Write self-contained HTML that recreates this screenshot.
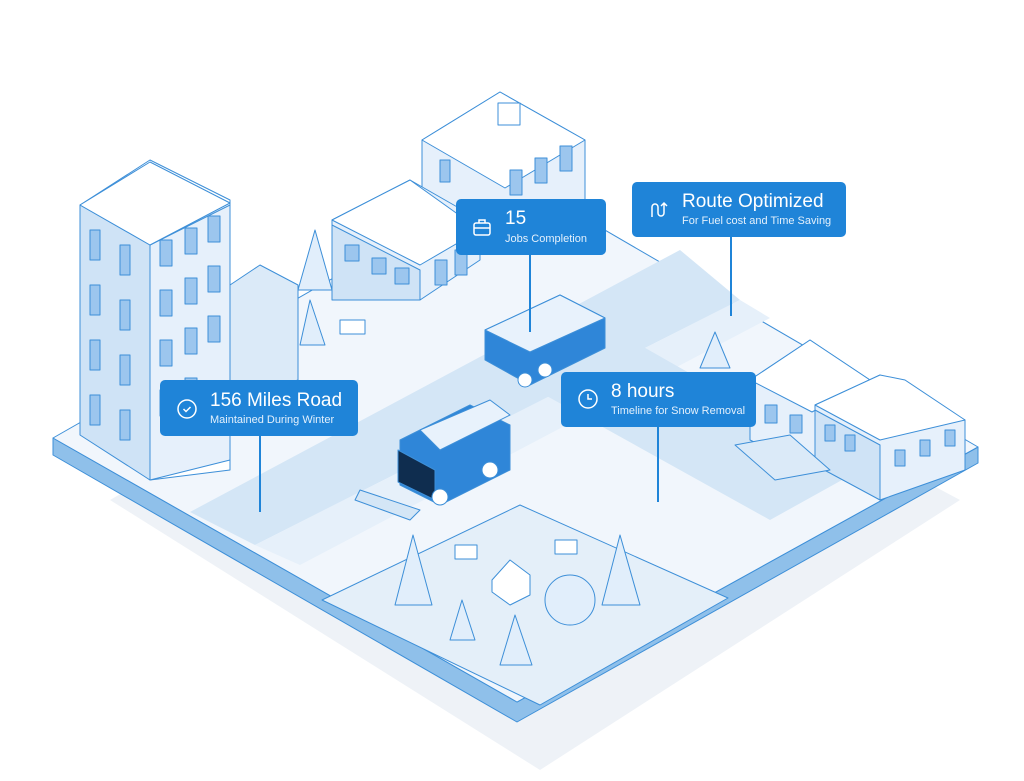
<!DOCTYPE html>
<html><head><meta charset="utf-8"><style>
html,body{margin:0;padding:0;background:#fff;width:1024px;height:781px;overflow:hidden}
.lb{position:absolute;background:#1f84d8;border-radius:5px;color:#fff;font-family:"Liberation Sans",sans-serif}
.lb .t{position:absolute;font-size:19px}
.lb .s{position:absolute;font-size:11px;color:#e3f0fc}
.ln{position:absolute;width:2px;background:#1f84d8}
</style></head><body>
<svg width="1024" height="781" style="position:absolute;left:0;top:0" xmlns="http://www.w3.org/2000/svg">
<g stroke="#3d8fd8" stroke-width="1" stroke-linejoin="round">
<!-- shadow -->
<polygon points="110,500 520,265 960,500 540,770" fill="#eef2f7" stroke="none"/>
<!-- platform side -->
<polygon points="53,438 517,702 978,447 978,463 517,722 53,455" fill="#8fc0ea"/>
<polygon points="53,438 512,176 978,447 517,702" fill="#f1f6fc"/>
<!-- main road -->
<polygon points="190,512 680,250 740,300 255,545" fill="#d4e6f6" stroke="none"/>
<polygon points="255,545 740,300 770,318 300,565" fill="#e6f0fa" stroke="none"/>
<!-- side road -->
<polygon points="545,395 640,345 860,470 770,520" fill="#d4e6f6" stroke="none"/>
<!-- park -->
<polygon points="322,600 520,505 728,598 540,705" fill="#e4eff9"/>
<!-- tall building -->
<polygon points="80,205 150,160 230,200 230,470 150,480 80,430" fill="#fff"/>
<polygon points="80,205 150,245 150,480 80,435" fill="#cfe3f6"/>
<polygon points="150,245 230,205 230,460 150,480" fill="#e6f0fb"/>
<polygon points="80,205 150,162 230,203 150,245" fill="#fff"/>
<g fill="#9cc6ee">
<rect x="90" y="230" width="10" height="30"/><rect x="120" y="245" width="10" height="30"/>
<rect x="90" y="285" width="10" height="30"/><rect x="120" y="300" width="10" height="30"/>
<rect x="90" y="340" width="10" height="30"/><rect x="120" y="355" width="10" height="30"/>
<rect x="90" y="395" width="10" height="30"/><rect x="120" y="410" width="10" height="30"/>
<rect x="160" y="240" width="12" height="26"/><rect x="185" y="228" width="12" height="26"/><rect x="208" y="216" width="12" height="26"/>
<rect x="160" y="290" width="12" height="26"/><rect x="185" y="278" width="12" height="26"/><rect x="208" y="266" width="12" height="26"/>
<rect x="160" y="340" width="12" height="26"/><rect x="185" y="328" width="12" height="26"/><rect x="208" y="316" width="12" height="26"/>
<rect x="160" y="390" width="12" height="26"/><rect x="185" y="378" width="12" height="26"/>
</g>
<!-- small building next -->
<polygon points="230,285 260,265 298,285 298,380 230,400" fill="#dbeaf8"/>
<!-- top center building -->
<polygon points="422,140 500,92 585,140 585,200 505,240 422,195" fill="#e6f0fb"/>
<polygon points="422,140 505,188 585,140 500,92" fill="#fff"/>
<rect x="498" y="103" width="22" height="22" fill="#fff"/>
<g fill="#9cc6ee"><rect x="510" y="170" width="12" height="25"/><rect x="535" y="158" width="12" height="25"/><rect x="560" y="146" width="12" height="25"/><rect x="440" y="160" width="10" height="22"/></g>
<!-- middle building -->
<polygon points="332,220 410,180 480,220 480,260 420,300 332,260" fill="#e6f0fb"/>
<polygon points="332,220 420,265 480,230 410,180" fill="#fff"/>
<polygon points="332,225 420,270 420,300 332,300" fill="#cfe3f6"/>
<g fill="#9cc6ee"><rect x="345" y="245" width="14" height="16"/><rect x="372" y="258" width="14" height="16"/><rect x="395" y="268" width="14" height="16"/><rect x="435" y="260" width="12" height="25"/><rect x="455" y="250" width="12" height="25"/></g>
<!-- right buildings -->
<polygon points="750,380 810,340 870,380 870,440 812,470 750,440" fill="#e6f0fb"/>
<polygon points="750,380 812,412 870,380 810,340" fill="#fff"/>
<polygon points="815,405 880,375 965,420 965,470 880,500 815,460" fill="#e6f0fb"/>
<polygon points="815,405 880,440 965,420 905,380 880,375" fill="#fff"/>
<polygon points="815,410 880,445 880,500 815,465" fill="#cfe3f6"/>
<g fill="#9cc6ee"><rect x="825" y="425" width="10" height="16"/><rect x="845" y="435" width="10" height="16"/><rect x="895" y="450" width="10" height="16"/><rect x="920" y="440" width="10" height="16"/><rect x="945" y="430" width="10" height="16"/><rect x="765" y="405" width="12" height="18"/><rect x="790" y="415" width="12" height="18"/></g>
<!-- bus stop -->
<polygon points="735,445 790,435 830,470 775,480" fill="#dbeaf8"/>
<!-- truck 1 -->
<polygon points="485,330 560,295 605,318 605,348 530,385 485,360" fill="#2f86d8"/>
<polygon points="485,330 530,352 605,318 560,295" fill="#e8f2fc"/>
<circle cx="525" cy="380" r="7" fill="#fff"/><circle cx="545" cy="370" r="7" fill="#fff"/>
<!-- truck 2 -->
<polygon points="400,440 470,405 510,425 510,470 440,505 400,485" fill="#2f86d8"/>
<polygon points="420,430 490,400 510,415 440,450" fill="#e8f2fc"/>
<polygon points="398,450 435,470 435,500 398,482" fill="#0f2d4f"/>
<circle cx="440" cy="497" r="8" fill="#fff"/><circle cx="490" cy="470" r="8" fill="#fff"/>
<polygon points="360,490 420,510 410,520 355,500" fill="#d4e6f6"/>
<!-- trees -->
<g fill="#e1eefb">
<polygon points="315,230 298,290 332,290"/><polygon points="310,300 300,345 325,345"/>
<polygon points="413,535 395,605 432,605"/><polygon points="462,600 450,640 475,640"/>
<polygon points="515,615 500,665 532,665"/><polygon points="620,535 602,605 640,605"/>
<polygon points="715,332 700,368 730,368"/>
<circle cx="570" cy="600" r="25"/>
</g>
<!-- fountain -->
<polygon points="492,580 510,560 530,575 530,595 510,605 492,592" fill="#fff"/>
<!-- benches -->
<rect x="340" y="320" width="25" height="14" fill="#fff"/><rect x="455" y="545" width="22" height="14" fill="#fff"/><rect x="555" y="540" width="22" height="14" fill="#fff"/>
</g>
</svg>
<div class="ln" style="left:529px;top:250px;height:82px"></div>
<div class="ln" style="left:730px;top:232px;height:84px"></div>
<div class="ln" style="left:259px;top:432px;height:80px"></div>
<div class="ln" style="left:657px;top:422px;height:80px"></div>

<div class="lb" style="left:456px;top:199px;width:150px;height:56px">
<svg style="position:absolute;left:16px;top:18px" width="20" height="20" viewBox="0 0 20 20" fill="none" stroke="#fff" stroke-width="1.5"><rect x="2" y="6" width="16" height="12" rx="2"/><path d="M7 6V3h6v3M2 11h16"/></svg>
<div class="t" style="left:49px;top:9px">15</div><div class="s" style="left:49px;top:34px">Jobs Completion</div></div>

<div class="lb" style="left:632px;top:182px;width:214px;height:55px">
<svg style="position:absolute;left:16px;top:17px" width="22" height="22" viewBox="0 0 22 22" fill="none" stroke="#fff" stroke-width="1.5"><path d="M4 18V8a3 3 0 0 1 6 0v6a3 3 0 0 0 6 0V4M13 7l3-3 3 3"/></svg>
<div class="t" style="left:50px;top:9px">Route Optimized</div><div class="s" style="left:50px;top:33px">For Fuel cost and Time Saving</div></div>

<div class="lb" style="left:160px;top:380px;width:198px;height:56px">
<svg style="position:absolute;left:16px;top:18px" width="22" height="22" viewBox="0 0 22 22" fill="none" stroke="#fff" stroke-width="1.5"><circle cx="11" cy="11" r="9"/><path d="M7.5 11l2.5 2.5 4.5-4.5"/></svg>
<div class="t" style="left:50px;top:10px">156 Miles Road</div><div class="s" style="left:50px;top:34px">Maintained During Winter</div></div>

<div class="lb" style="left:561px;top:372px;width:195px;height:55px">
<svg style="position:absolute;left:16px;top:16px" width="22" height="22" viewBox="0 0 22 22" fill="none" stroke="#fff" stroke-width="1.5"><circle cx="11" cy="11" r="9"/><path d="M11 6v5h4"/></svg>
<div class="t" style="left:50px;top:9px">8 hours</div><div class="s" style="left:50px;top:33px">Timeline for Snow Removal</div></div>
</body></html>
